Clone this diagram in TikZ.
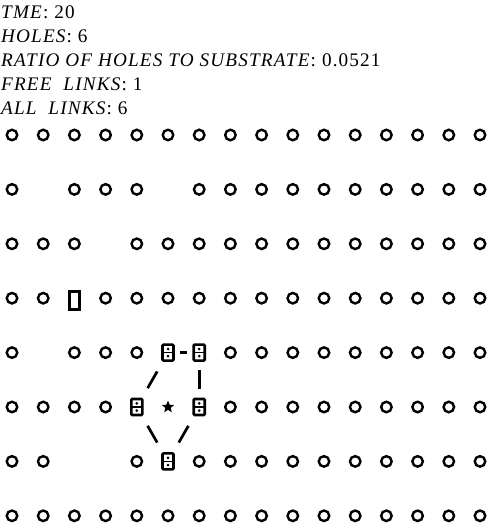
\documentclass[tikz,border=0pt]{standalone}
\usepackage{fontspec}
\setmainfont{Liberation Serif}
\newfontfamily\capfont[LetterSpace=6]{Liberation Serif}
\usetikzlibrary{shapes.geometric}

\begin{document}
\begin{tikzpicture}[x=1pt, y=1pt,
    info/.style = {anchor=base west, inner sep=0pt, font=\capfont\fontsize{19.2}{22}\selectfont},
    site/.style = {draw, circle, line width=2.4pt, minimum size=10.5pt, inner sep=0pt},
    hole/.style = {draw, rectangle, line width=3pt, minimum width=9.5pt, minimum height=18pt, inner sep=0pt},
    bound/.style = {draw, rectangle, rounded corners=1pt, line width=2.6pt, minimum width=11pt, minimum height=16pt, inner sep=0pt,
        path picture={
            \draw[line width=1.4pt] (path picture bounding box.west) -- (path picture bounding box.east);
            \fill ([yshift=3.6pt]path picture bounding box.center) circle (1.5pt);
            \fill ([yshift=-3.6pt]path picture bounding box.center) circle (1.5pt);
        }},
    core/.style = {star, star points=5, star point ratio=2.3, fill, minimum size=13pt, inner sep=0pt},
    link/.style = {line width=2.7pt}]
    \useasboundingbox (0,0) rectangle (488,-526);

    % header
    \node[info] (time) at (1,-19) {\textit{TME}: 20};
    \node[info] (holes) at (1,-43) {\textit{HOLES}: 6};
    \node[info] (ratio) at (1,-67) {\textit{RATIO OF HOLES TO SUBSTRATE}: 0.0521};
    \node[info] (free) at (1,-91) {\textit{FREE\ \ LINKS}: 1};
    \node[info] (all) at (1,-115) {\textit{ALL\ \ LINKS}: 6};

    \begin{scope}[shift={(12pt,-135pt)}, x=31.2pt, y=-54.4pt]
        % substrate sites
        \foreach \r/\cols in {0/{0,1,2,3,4,5,6,7,8,9,10,11,12,13,14,15},
                              1/{0,2,3,4,6,7,8,9,10,11,12,13,14,15},
                              2/{0,1,2,4,5,6,7,8,9,10,11,12,13,14,15},
                              3/{0,1,3,4,5,6,7,8,9,10,11,12,13,14,15},
                              4/{0,2,3,4,7,8,9,10,11,12,13,14,15},
                              5/{0,1,2,3,7,8,9,10,11,12,13,14,15},
                              6/{0,1,4,6,7,8,9,10,11,12,13,14,15},
                              7/{0,1,2,3,4,5,6,7,8,9,10,11,12,13,14,15}}
            \foreach \c in \cols
                \node[site] (s-\r-\c) at (\c,\r) {};

        \node[hole] (h-3-2) at (2,3.04) {};

        % bound cluster
        \node[bound] (b-4-5) at (5,4) {};
        \node[bound] (b-4-6) at (6,4) {};
        \node[bound] (b-5-4) at (4,5) {};
        \node[core] (c-5-5) at (5,5) {};
        \node[bound] (b-5-6) at (6,5) {};
        \node[bound] (b-6-5) at (5,6) {};
    \end{scope}

    \draw[link, shorten <=5pt, shorten >=5pt] (b-4-5) -- (b-4-6);
    \draw[link, shorten <=8.5pt, shorten >=8.5pt] (b-4-6) -- (b-5-6);
    \draw[link, shorten <=11pt, shorten >=11pt] (b-4-5) -- (b-5-4);
    \draw[link, shorten <=11pt, shorten >=11pt] (b-5-4) -- (b-6-5);
    \draw[link, shorten <=11pt, shorten >=11pt] (b-5-6) -- (b-6-5);
\end{tikzpicture}
\end{document}
